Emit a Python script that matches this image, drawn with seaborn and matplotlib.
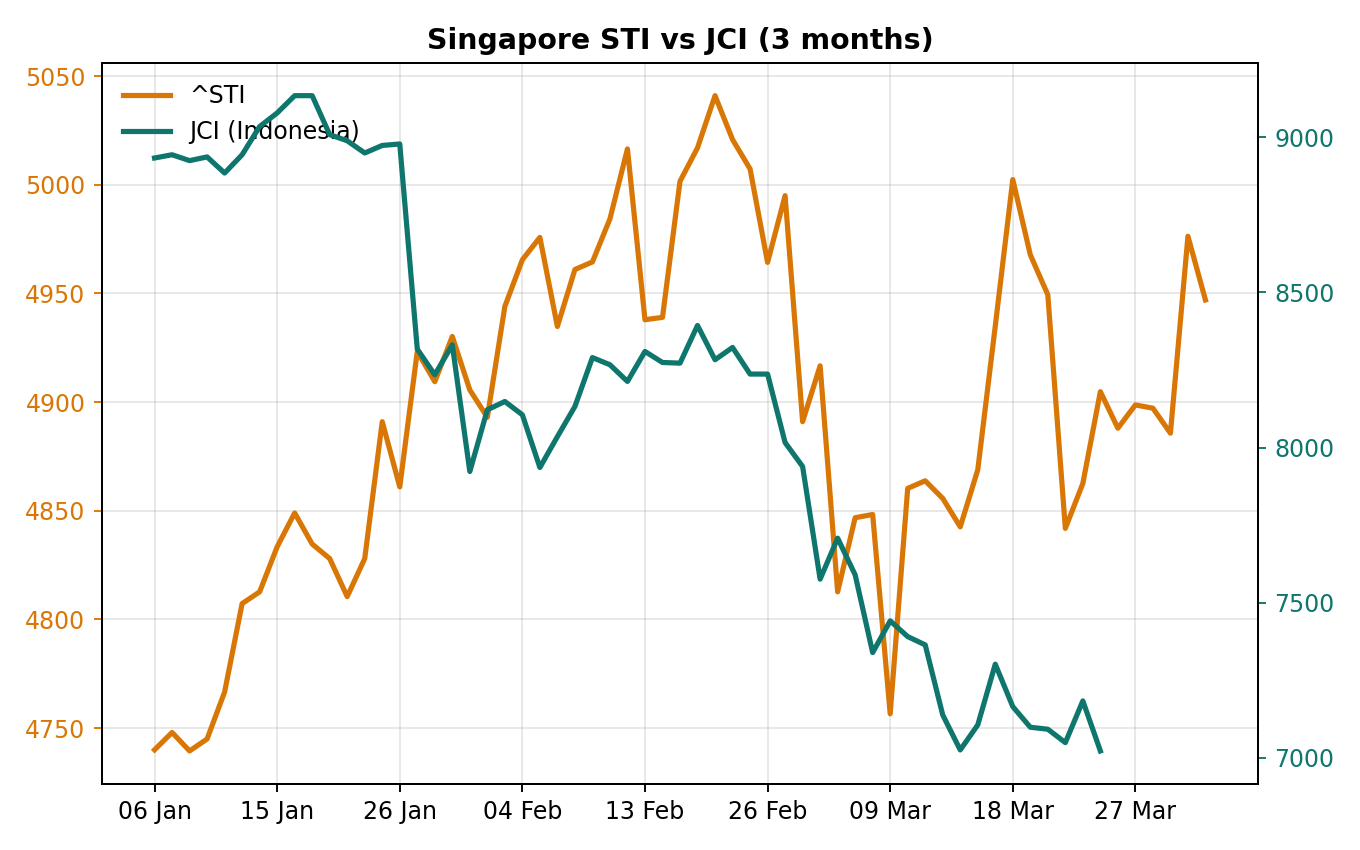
import numpy as np
import matplotlib
matplotlib.use("Agg")
import matplotlib.pyplot as plt
import seaborn as sns

# Straits Times Index (left axis), one value per trading day
sti = [4740, 4748, 4739.5, 4745, 4766.6, 4807.3, 4812.7, 4833.4, 4849, 4834.7,
       4828, 4810.5, 4828, 4891, 4861, 4923.3, 4909.4, 4930.2, 4905.6, 4893,
       4944, 4965.5, 4975.8, 4934.8, 4961, 4964.5, 4984.3, 5016.5, 4937.9, 4939,
       5001.6, 5017, 5041, 5020.8, 5007.3, 4964.3, 4995, 4891, 4916.7, 4812.7,
       4846.8, 4848.3, 4756.6, 4860.3, 4863.8, 4855.7, 4842.6, 4868.8, 4935, 5002.4,
       4967.8, 4949.4, 4841.9, 4862.6, 4904.8, 4888, 4898.7, 4897.2, 4885.7, 4976.3,
       4947]

# Jakarta Composite Index (right axis)
jci = [8933.5, 8944, 8925, 8937, 8885, 8944, 9035, 9078.7, 9134.5, 9134.5,
       9008.7, 8989, 8949.7, 8974, 8978.7, 8317.4, 8234.5, 8331, 7922.6, 8121.6,
       8148.4, 8105.5, 7935.5, 8035, 8132.3, 8290, 8266.8, 8213, 8309.7, 8274.2,
       8272, 8393.5, 8283, 8322.6, 8236.8, 8236.8, 8016, 7938.7, 7575.5, 7707.7,
       7589.4, 7338.7, 7441, 7390.3, 7363.5, 7137.7, 7024.8, 7105.5, 7301.3, 7164.5,
       7098, 7091.6, 7048.4, 7183, 7021.6]

tick_labels = ["06 Jan", "15 Jan", "26 Jan", "04 Feb", "13 Feb",
               "26 Feb", "09 Mar", "18 Mar", "27 Mar"]
tick_step = 7

sti_color = "#d97706"
jci_color = "#0f766e"

fig, ax1 = plt.subplots(figsize=(8, 5), dpi=170)
fig.subplots_adjust(left=0.075, right=0.925, top=0.926, bottom=0.078)

sns.lineplot(x=np.arange(len(sti)), y=sti, ax=ax1, color=sti_color,
             linewidth=2.2, label="^STI", legend=False)
ax2 = ax1.twinx()
sns.lineplot(x=np.arange(len(jci)), y=jci, ax=ax2, color=jci_color,
             linewidth=2.2, label="JCI (Indonesia)", legend=False)

ax1.set_xlim(-3, len(sti) + 2)
ax1.set_xticks(np.arange(len(tick_labels)) * tick_step)
ax1.set_xticklabels(tick_labels)
ax1.grid(True, alpha=0.3)

ax1.tick_params(axis="y", colors=sti_color)
ax2.tick_params(axis="y", colors=jci_color)
for sp in ax1.spines.values():
    sp.set_color("black")

ax1.set_title("Singapore STI vs JCI (3 months)", fontsize=12, fontweight="bold")

h1, l1 = ax1.get_legend_handles_labels()
h2, l2 = ax2.get_legend_handles_labels()
ax1.legend(h1 + h2, l1 + l2, loc="upper left", frameon=False)

fig.savefig("out.png", dpi=170)
